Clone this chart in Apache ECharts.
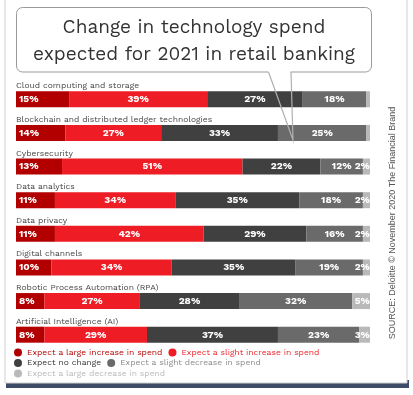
<!DOCTYPE html>
<html><head><meta charset="utf-8">
<script src="https://cdn.jsdelivr.net/npm/echarts@6/dist/echarts.min.js"></script>
<style>html,body{margin:0;padding:0;background:#fff}#c{width:413px;height:395px}</style>
</head><body><div id="c"></div>
<script>
const categories = ["Cloud computing and storage","Blockchain and distributed ledger technologies","Cybersecurity","Data analytics","Data privacy","Digital channels","Robotic Process Automation (RPA)","Artificial Intelligence (AI)"];
const seriesNames = ["Expect a large increase in spend","Expect a slight increase in spend","Expect no change","Expect a slight decrease in spend","Expect a large decrease in spend"];
const largeIncrease = [15,14,13,11,11,10,8,8];
const slightIncrease = [39,27,51,34,42,34,27,29];
const noChange = [27,33,22,35,29,35,28,37];
const slightDecrease = [18,25,12,18,16,19,32,23];
const largeDecrease = [1,1,2,2,2,2,5,3];
const titleText = "Change in technology spend\nexpected for 2021 in retail banking";
const sourceText = "SOURCE: Deloitte \u00A9 November 2020 The Financial Brand";

const colors = ['#b20000','#ee1c25','#404040','#6a6a6a','#b9b9b9'];
const legendColors = ['#b20000','#ee1c25','#333333','#8a8a8a','#b9b9b9'];
const values = [largeIncrease, slightIncrease, noChange, slightDecrease, largeDecrease];
const font = '"Work Sans","Open Sans",sans-serif';

const series = values.map((v,i)=>({
  name: seriesNames[i], type:'bar', stack:'t', data:v, barWidth:16,
  itemStyle:{color:colors[i]},
  label:{show:true, color:'#fff', fontWeight:'bold', fontSize:10, fontFamily:font,
    position: i===0 ? 'insideLeft' : (i===4 ? 'insideRight' : 'inside'),
    distance: i===0 ? 3 : (i===4 ? 0 : 5),
    formatter: p => (i===4 && p.value<2) ? '' : p.value + '%'}
}));

const chart = echarts.init(document.getElementById('c'));
chart.setOption({
  backgroundColor:'#fff',
  animation:false,
  grid:{left:16, right:43, top:82.5, height:269},
  xAxis:{type:'value', min:0, max:100, show:false},
  yAxis:{type:'category', data:categories, inverse:true,
    axisLine:{show:false}, axisTick:{show:false},
    axisLabel:{inside:true, margin:0, align:'left', verticalAlign:'bottom', padding:[0,0,9,0],
      fontSize:8.5, color:'#444', fontFamily:font}},
  legend:[
    {data:[{name:seriesNames[0],textStyle:{color:legendColors[0]}},{name:seriesNames[1],textStyle:{color:legendColors[1]}}], left:14, top:348},
    {data:[{name:seriesNames[2],textStyle:{color:legendColors[2]}},{name:seriesNames[3],textStyle:{color:legendColors[3]}}], left:14, top:358.5},
    {data:[{name:seriesNames[4],textStyle:{color:legendColors[4]}}], left:14, top:369}
  ].map(l=>Object.assign(l,{icon:'circle', itemWidth:8, itemHeight:8, itemGap:6, padding:0, selectedMode:false,
      textStyle:Object.assign({fontSize:8.5, fontFamily:font}, {}) })),
  series: series,
  graphic:[
    {type:'rect', z:-10, shape:{x:6, y:380, width:403, height:8}, style:{fill:'#3e4b66'}},
    {type:'rect', z:-9, shape:{x:5, y:-5, width:402, height:388}, style:{fill:'#fff', stroke:'#cfcfcf', lineWidth:1}},
    {type:'rect', z:10, shape:{x:16.5, y:7.5, width:355, height:64.5, r:6}, style:{fill:'#fff', stroke:'#9a9a9a', lineWidth:1}},
    {type:'rect', z:11, shape:{x:268.5, y:70, width:22, height:4}, style:{fill:'#fff'}},
    {type:'polyline', z:12, shape:{points:[[268.5,72],[293,140],[291,72]]}, style:{stroke:'#b0b0b0', lineWidth:1.2, fill:null}},
    {type:'text', z:13, x:194, y:41, style:{text:titleText, fill:'#333', font:'19px '+font, align:'center', verticalAlign:'middle', lineHeight:27}},
    {type:'text', z:13, x:393, y:223, rotation:Math.PI/2, style:{text:sourceText, fill:'#555', font:'9px "Liberation Sans",Arial,sans-serif', align:'center', verticalAlign:'middle'}}
  ]
});
</script></body></html>
